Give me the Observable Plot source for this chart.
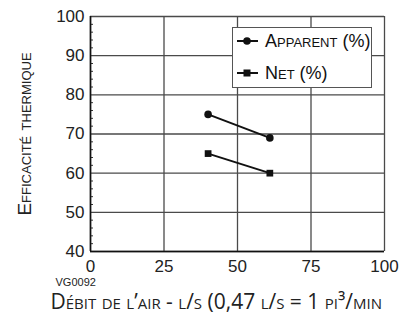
<!DOCTYPE html>
<html><head><meta charset="utf-8">
<script src="https://cdn.jsdelivr.net/npm/d3@7"></script>
<script src="https://cdn.jsdelivr.net/npm/@observablehq/plot@0.6"></script>
<style>
body{margin:0;background:#fff;}
#chart{position:relative;width:401px;height:318px;overflow:hidden;}
#chart svg{font-family:"Liberation Sans",Arial,sans-serif;}
.legend{position:absolute;left:232px;top:27px;width:140px;height:61px;box-sizing:border-box;border:1.5px solid #555;background:#fff;font-family:"Liberation Sans",Arial,sans-serif;font-size:18px;font-variant:small-caps;color:#111;}
.legend .row{position:absolute;left:0;height:20px;display:flex;align-items:center;white-space:nowrap;}
.legend svg{margin-left:4px;margin-right:7px;}
</style></head><body><div id="chart"></div>
<script>
const seriesNames = ["Apparent (%)", "Net (%)"];
const apparentX = [40, 61];
const apparentY = [75, 69];
const netX = [40, 61];
const netY = [65, 60];
const xTicks = [0, 25, 50, 75, 100];
const yTicks = [40, 50, 60, 70, 80, 90, 100];
const yMinor = [42, 44, 46, 48, 52, 54, 56, 58, 62, 64, 66, 68, 72, 74, 76, 78, 82, 84, 86, 88, 92, 94, 96, 98];
const xTitle = "Débit de l’air - l/s (0,47 l/s = 1 pi³/min";
const yTitle = "Efficacité thermique";
const code = "VG0092";

const apparent = apparentX.map((x, i) => ({x, y: apparentY[i]}));
const net = netX.map((x, i) => ({x, y: netY[i]}));

const plot = Plot.plot({
  width: 401, height: 318,
  marginTop: 16, marginLeft: 90, marginRight: 17, marginBottom: 67,
  x: {domain: [0, 100]},
  y: {domain: [40, 100]},
  marks: [
    Plot.gridX(xTicks, {stroke: "#4a4a4a", strokeOpacity: 1, strokeWidth: 1.3}),
    Plot.gridY(yTicks, {stroke: "#4a4a4a", strokeOpacity: 1, strokeWidth: 1.3}),
    Plot.axisY(yMinor, {tickSize: 3, dx: 3, text: null, stroke: "#333", label: null}),
    Plot.axisX({ticks: xTicks, tickSize: 0, tickPadding: 8, fontSize: 17, label: null, color: "#222"}),
    Plot.axisY({ticks: yTicks, tickSize: 0, tickPadding: 6, fontSize: 17, label: null, color: "#222"}),
    Plot.ruleX([0], {stroke: "#111", strokeWidth: 1.6}),
    Plot.ruleY([40], {stroke: "#111", strokeWidth: 1.6}),
    Plot.line(apparent, {x: "x", y: "y", stroke: "#111", strokeWidth: 2}),
    Plot.dot(apparent, {x: "x", y: "y", r: 3.8, fill: "#111", stroke: "none"}),
    Plot.line(net, {x: "x", y: "y", stroke: "#111", strokeWidth: 2}),
    Plot.dot(net, {x: "x", y: "y", symbol: "square", r: 3.8, fill: "#111", stroke: "none"}),
    Plot.text([yTitle], {frameAnchor: "left", textAnchor: "middle", dx: -66, rotate: -90, fontSize: 19, fill: "#222", className: "sc"}),
    Plot.text([code], {frameAnchor: "bottom-left", dx: -35, dy: 34, textAnchor: "start", fontSize: 11, fill: "#222"}),
    Plot.text([xTitle], {frameAnchor: "bottom-left", dx: -40, dy: 57, textAnchor: "start", fontSize: 21, fill: "#222", className: "sc2"})
  ]
});
const chart = document.getElementById("chart");
chart.appendChild(plot);
const st = document.createElement("style");
st.textContent = `.sc text{font-variant:small-caps;} .sc2 text{font-variant:small-caps;font-family:"Open Sans",sans-serif;}`;
document.head.appendChild(st);

const legend = document.createElement("div");
legend.className = "legend";
const symbols = ["circle", "square"];
seriesNames.forEach((name, i) => {
  const row = document.createElement("div");
  row.className = "row";
  row.style.top = (i === 0 ? 3 : 35) + "px";
  const shape = symbols[i] === "circle"
    ? `<circle cx="10" cy="10" r="3.8" fill="#111"/>`
    : `<rect x="6.5" y="6.5" width="7" height="7" fill="#111"/>`;
  row.innerHTML = `<svg width="21" height="20"><line x1="0" x2="21" y1="10" y2="10" stroke="#111" stroke-width="2"/>${shape}</svg><span>${name}</span>`;
  legend.appendChild(row);
});
chart.appendChild(legend);
</script></body></html>
